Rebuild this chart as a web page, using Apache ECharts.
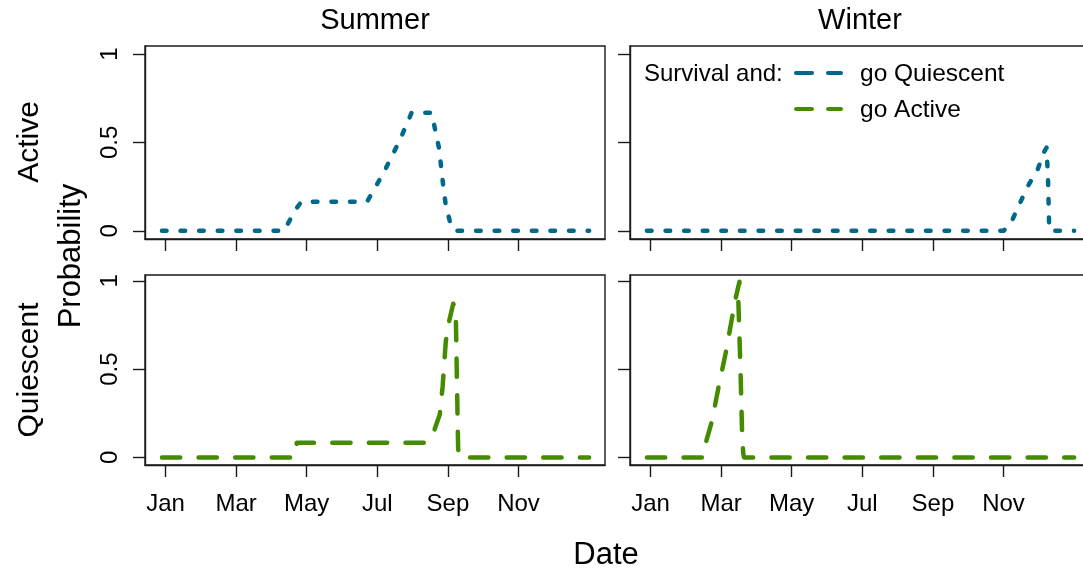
<!DOCTYPE html>
<html>
<head>
<meta charset="utf-8">
<script src="https://cdn.jsdelivr.net/npm/echarts@6/dist/echarts.min.js"></script>
<style>
  html, body { margin: 0; padding: 0; background: #fff; }
  #chart { width: 1083px; height: 573px; }
</style>
</head>
<body>
<div id="chart"></div>
<script>
// ---- data (x in months since Jan 1, y = probability) ----
const monthTicks = [0, 2, 4, 6, 8, 10];
const monthLabels = ['Jan', 'Mar', 'May', 'Jul', 'Sep', 'Nov'];
const probTicks = [0, 0.5, 1];
const probLabels = ['0', '0.5', '1'];
const seasons = ['Summer', 'Winter'];
const states = ['Active', 'Quiescent'];
const legendTitle = 'Survival and:';
const legendNames = ['go Quiescent', 'go Active'];

// Summer, Active -> go Quiescent
const summerGoQuiescentMonth = [-0.1, 3.35, 3.71, 3.85, 5.71, 6.17, 6.64, 6.97, 7.54, 7.63, 7.75, 7.87, 7.94, 8.06, 8.18, 12.0];
const summerGoQuiescentProb  = [0, 0, 0.127, 0.165, 0.165, 0.325, 0.513, 0.667, 0.667, 0.58, 0.466, 0.25, 0.145, 0.05, 0, 0];
// Winter, Active -> go Quiescent
const winterGoQuiescentMonth = [-0.1, 10.0, 10.2, 10.68, 10.96, 11.15, 11.22, 11.26, 11.29, 11.32, 12.0];
const winterGoQuiescentProb  = [0, 0, 0.04, 0.25, 0.343, 0.447, 0.47, 0.3, 0.05, 0, 0];
// Summer, Quiescent -> go Active
const summerGoActiveMonth = [-0.1, 3.66, 3.72, 7.38, 7.59, 7.77, 7.85, 7.94, 8.01, 8.15, 8.22, 8.25, 8.29, 8.32, 12.0];
const summerGoActiveProb  = [0, 0, 0.083, 0.083, 0.14, 0.243, 0.4, 0.656, 0.75, 0.87, 0.85, 0.5, 0.05, 0, 0];
// Winter, Quiescent -> go Active
const winterGoActiveMonth = [-0.1, 1.50, 1.58, 1.74, 1.93, 2.14, 2.31, 2.40, 2.52, 2.49, 2.55, 2.60, 2.63, 2.65, 12.0];
const winterGoActiveProb  = [0, 0, 0.092, 0.205, 0.40, 0.60, 0.79, 0.89, 0.995, 0.88, 0.5, 0.1, 0.02, 0, 0];

// ---- styling ----
const FONT = "'Liberation Sans', Arial, Helvetica, sans-serif";
const AX = '#1a1a1a';
const BLUE = '#00688B';
const GREEN = '#458B00';

function zip(xs, ys) { return xs.map((x, i) => [x, ys[i]]); }

const grids = [
  { left: 145, top: 46, width: 460, height: 193 },
  { left: 630, top: 46, width: 460, height: 193 },
  { left: 145, top: 275, width: 460, height: 190 },
  { left: 630, top: 275, width: 460, height: 190 }
].map(g => Object.assign(g, {
  show: true, borderColor: AX, borderWidth: 1.4, backgroundColor: 'transparent',
  containLabel: false, outerBoundsMode: 'none'
}));

const xAxes = [0, 1, 2, 3].map(i => ({
  type: 'value', gridIndex: i, min: -0.58, max: 12.45,
  axisLine: { show: true, onZero: false, lineStyle: { color: AX, width: 1.4 } },
  axisTick: { show: true, length: 12, inside: false, customValues: monthTicks, lineStyle: { color: AX, width: 1.4 } },
  axisLabel: {
    show: i >= 2, customValues: monthTicks, margin: 27,
    formatter: v => monthLabels[monthTicks.indexOf(v)] || '',
    color: '#000', fontFamily: FONT, fontSize: 24
  },
  splitLine: { show: false }
}));

const yAxes = [0, 1, 2, 3].map(i => ({
  type: 'value', gridIndex: i,
  min: i < 2 ? -0.046 : -0.043, max: i < 2 ? 1.045 : 1.033,
  axisLine: { show: true, onZero: false, lineStyle: { color: AX, width: 1.4 } },
  axisTick: { show: true, length: 12, inside: false, customValues: probTicks, lineStyle: { color: AX, width: 1.4 } },
  axisLabel: {
    show: i % 2 === 0, customValues: probTicks, margin: 23, rotate: 90,
    formatter: v => probLabels[probTicks.indexOf(v)] || '',
    color: '#000', fontFamily: FONT, fontSize: 24
  },
  splitLine: { show: false }
}));

function lineSeries(idx, xs, ys, color, dash) {
  return {
    type: 'line', xAxisIndex: idx, yAxisIndex: idx,
    data: zip(xs, ys), showSymbol: false, symbol: 'none', smooth: false,
    silent: true, animation: false,
    lineStyle: { color: color, width: 4.5, type: dash, cap: 'round', join: 'round' }
  };
}

const dotted = [4.6, 14];
const dashed = [18.3, 18.3];

const series = [
  lineSeries(0, summerGoQuiescentMonth, summerGoQuiescentProb, BLUE, dotted),
  lineSeries(1, winterGoQuiescentMonth, winterGoQuiescentProb, BLUE, dotted),
  lineSeries(2, summerGoActiveMonth, summerGoActiveProb, GREEN, dashed),
  lineSeries(3, winterGoActiveMonth, winterGoActiveProb, GREEN, dashed)
];

function txt(text, x, y, size, rot, align) {
  return {
    type: 'text', x: x, y: y, rotation: rot || 0, silent: true,
    style: {
      text: text, fontSize: size, fontFamily: FONT, fill: '#000',
      align: align || 'center', verticalAlign: 'middle',
      textAlign: align || 'center', textVerticalAlign: 'middle'
    }
  };
}
function seg(x1, x2, y, color) {
  return {
    type: 'line', silent: true,
    shape: { x1: x1, y1: y, x2: x2, y2: y },
    style: { stroke: color, lineWidth: 4, lineDash: [16, 16], lineCap: 'round' }
  };
}

const graphic = [
  txt(seasons[0], 375, 21, 29),
  txt(seasons[1], 860, 21, 29),
  txt(states[0], 30, 142, 30, Math.PI / 2),
  txt(states[1], 30, 370, 30, Math.PI / 2),
  txt('Probability', 71, 256, 31, Math.PI / 2),
  txt('Date', 606, 555, 31),
  txt(legendTitle, 644, 74, 24, 0, 'left'),
  seg(796, 841, 73, BLUE),
  txt(legendNames[0], 860, 74, 24.5, 0, 'left'),
  seg(796, 841, 109, GREEN),
  txt(legendNames[1], 860, 110, 24.5, 0, 'left')
];

const chart = echarts.init(document.getElementById('chart'), null, { renderer: 'canvas' });
chart.setOption({
  animation: false,
  backgroundColor: '#fff',
  grid: grids,
  xAxis: xAxes,
  yAxis: yAxes,
  series: series,
  graphic: graphic
});
</script>
</body>
</html>
